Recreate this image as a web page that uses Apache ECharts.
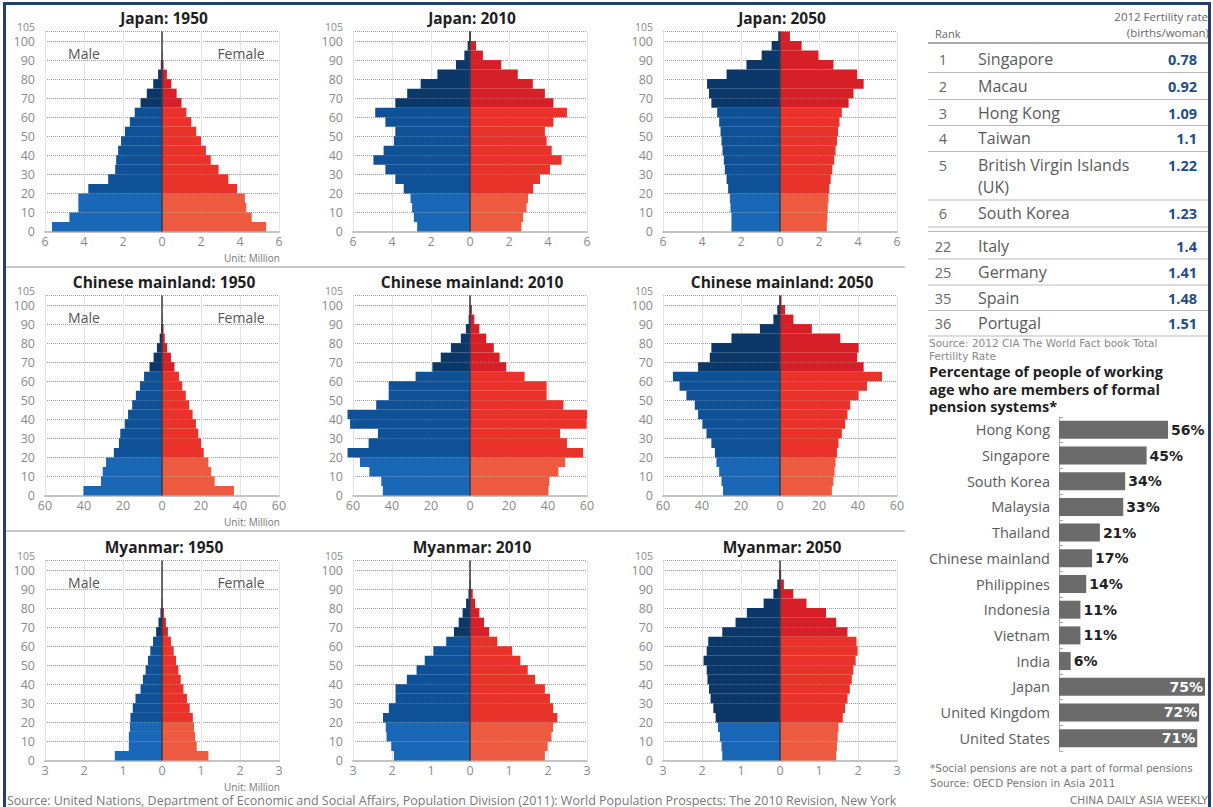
<!DOCTYPE html>
<html>
<head>
<meta charset="utf-8">
<script src="https://cdn.jsdelivr.net/npm/echarts@6/dist/echarts.min.js"></script>
<style>
html,body{margin:0;padding:0;background:#fff;}
#c{width:1213px;height:807px;}
</style>
</head>
<body>
<div id="c"></div>
<script>
// ---------------- DATA ----------------
const ageGroups = ['0-4','5-9','10-14','15-19','20-24','25-29','30-34','35-39','40-44','45-49','50-54','55-59','60-64','65-69','70-74','75-79','80-84','85-89','90-94','95-99','100+'];

const japan1950Male   = [5.64,4.75,4.29,4.29,3.78,2.76,2.4,2.35,2.25,2.1,1.9,1.65,1.4,1.1,0.78,0.45,0.2,0.06,0.01,0,0];
const japan1950Female = [5.34,4.6,4.32,4.25,3.85,3.4,2.9,2.5,2.25,2.0,1.75,1.5,1.25,1.0,0.75,0.48,0.25,0.08,0.02,0,0];
const japan2010Male   = [2.71,2.88,2.97,3.05,3.4,3.83,4.34,4.95,4.43,3.9,3.83,4.34,4.86,3.83,3.22,2.53,1.67,0.72,0.29,0.12,0.03];
const japan2010Female = [2.64,2.72,2.9,2.98,3.24,3.59,4.1,4.7,4.19,3.93,3.84,4.28,4.97,4.28,3.84,3.22,2.45,1.6,0.66,0.31,0.05];
const japan2050Male   = [2.49,2.49,2.54,2.57,2.66,2.74,2.83,2.88,2.95,3.0,3.05,3.12,3.22,3.52,3.64,3.74,2.74,1.72,0.94,0.43,0.09];
const japan2050Female = [2.4,2.43,2.45,2.49,2.53,2.6,2.68,2.78,2.85,2.92,2.98,3.05,3.17,3.52,3.77,4.29,3.95,2.74,1.97,1.11,0.51];

const china1950Male   = [40.3,31.3,30.4,28.7,24.7,22.1,21.4,19.1,17.4,15.3,13.4,11.3,9.2,6.4,4.3,2.6,1.2,0.5,0.1,0,0];
const china1950Female = [36.9,27,25.2,23.8,21.4,20,18.6,17.4,15.7,13.9,12.2,10.4,8.7,6.4,4.6,2.6,1.4,0.8,0.2,0,0];
const china2010Male   = [44.7,45.5,51.6,56.4,62.8,52,47.2,61.5,62.8,48.1,41.7,41.7,27.9,19.3,15,9.8,4.7,2.1,0.7,0.2,0];
const china2010Female = [40.2,40.7,45.3,48.8,58,49.7,46.2,59.8,60,47.9,39.3,39.3,28,18.6,15.2,12.2,8.3,4.8,2.2,1.0,0.2];
const china2050Male   = [29.2,30,31.2,32.6,33.4,35.2,37.7,39.8,42,43.7,48,51.5,54.9,42,36,35.2,24.9,10.3,3.4,1.4,0.3];
const china2050Female = [26.6,27.4,28,28.5,29.2,30,31.7,33.4,34.6,36,40.3,44.6,52.3,42.9,39.5,40.3,30.9,16.3,6.9,2.6,0.8];

const myanmar1950Male   = [1.21,0.85,0.85,0.82,0.81,0.75,0.68,0.55,0.49,0.42,0.36,0.3,0.23,0.15,0.09,0.04,0.01,0,0,0,0];
const myanmar1950Female = [1.19,0.89,0.85,0.82,0.79,0.71,0.64,0.55,0.48,0.42,0.36,0.3,0.23,0.15,0.1,0.05,0.01,0,0,0,0];
const myanmar2010Male   = [1.95,2.02,2.14,2.16,2.23,2.08,1.91,1.91,1.62,1.37,1.16,0.94,0.61,0.41,0.29,0.19,0.1,0.04,0.01,0,0];
const myanmar2010Female = [1.92,1.99,2.09,2.13,2.24,2.13,2.05,1.92,1.67,1.48,1.29,1.08,0.7,0.49,0.36,0.24,0.13,0.07,0.02,0,0];
const myanmar2050Male   = [1.48,1.5,1.54,1.59,1.65,1.71,1.78,1.82,1.86,1.88,1.96,1.88,1.84,1.48,1.14,0.85,0.42,0.17,0.07,0.02,0];
const myanmar2050Female = [1.44,1.46,1.48,1.5,1.61,1.67,1.73,1.79,1.84,1.88,1.94,1.99,1.96,1.73,1.44,1.18,0.68,0.34,0.1,0.03,0];

const pyramidTitles = ['Japan: 1950','Japan: 2010','Japan: 2050',
  'Chinese mainland: 1950','Chinese mainland: 2010','Chinese mainland: 2050',
  'Myanmar: 1950','Myanmar: 2010','Myanmar: 2050'];

// axis range (Million) and tick step for each country row
const japanAxisMax = 6,  japanAxisStep = 2;
const chinaAxisMax = 60, chinaAxisStep = 20;
const myanmarAxisMax = 3, myanmarAxisStep = 1;
const ageAxisMax = 105, ageAxisStep = 10;

const fertilityRanks = [1,2,3,4,5,6,22,25,35,36];
const fertilityCountries = ['Singapore','Macau','Hong Kong','Taiwan','British Virgin Islands\n(UK)','South Korea','Italy','Germany','Spain','Portugal'];
const fertilityRates = [0.78,0.92,1.09,1.1,1.22,1.23,1.4,1.41,1.48,1.51];

const pensionCountries = ['Hong Kong','Singapore','South Korea','Malaysia','Thailand','Chinese mainland','Philippines','Indonesia','Vietnam','India','Japan','United Kingdom','United States'];
const pensionShares = [56,45,34,33,21,17,14,11,11,6,75,72,71];

// ---------------- LAYOUT / STYLE ----------------
const FONT = '"Open Sans", "DejaVu Sans", sans-serif';
const WIDE = '"DejaVu Sans", "Open Sans", sans-serif';
const colLeft = [45, 353, 663];
const rowTop = [31.5, 295.5, 560.5];
const GW = 234, GH = 200;

const COL = {
  mYoung:'#1868b7', mMid:'#0e5196', mOld:'#0b3868',
  fYoung:'#ee5a3f', fMid:'#e8322a', fOld:'#d61f27'
};

const pyramids = [
  {m:japan1950Male, f:japan1950Female, max:japanAxisMax, step:japanAxisStep},
  {m:japan2010Male, f:japan2010Female, max:japanAxisMax, step:japanAxisStep},
  {m:japan2050Male, f:japan2050Female, max:japanAxisMax, step:japanAxisStep},
  {m:china1950Male, f:china1950Female, max:chinaAxisMax, step:chinaAxisStep},
  {m:china2010Male, f:china2010Female, max:chinaAxisMax, step:chinaAxisStep},
  {m:china2050Male, f:china2050Female, max:chinaAxisMax, step:chinaAxisStep},
  {m:myanmar1950Male, f:myanmar1950Female, max:myanmarAxisMax, step:myanmarAxisStep},
  {m:myanmar2010Male, f:myanmar2010Female, max:myanmarAxisMax, step:myanmarAxisStep},
  {m:myanmar2050Male, f:myanmar2050Female, max:myanmarAxisMax, step:myanmarAxisStep, darkAdultMale:true}
];

function txt(x, y, text, o) {
  o = o || {};
  return {
    type:'text', x:x, y:y, silent:true, z:10,
    style:{
      text:text, fill:o.color || '#555',
      font:(o.weight || 'normal') + ' ' + (o.size || 12) + 'px ' + (o.family || FONT),
      align:o.align || 'left', verticalAlign:'middle',
      textAlign:o.align || 'left', textVerticalAlign:'middle',
      lineHeight:o.lineHeight
    }
  };
}
function hline(x1, x2, y, color, w) {
  return {type:'line', silent:true, z:10, shape:{x1:x1, y1:y, x2:x2, y2:y}, style:{stroke:color, lineWidth:w || 1}};
}
function vline(x, y1, y2, color, w) {
  return {type:'line', silent:true, z:10, shape:{x1:x, y1:y1, x2:x, y2:y2}, style:{stroke:color, lineWidth:w || 1}};
}

const grids = [], xAxes = [], yAxes = [], series = [], graphics = [];

pyramids.forEach(function (p, i) {
  const row = Math.floor(i / 3), col = i % 3;
  const left = colLeft[col], top = rowTop[row];
  grids.push({left:left, top:top, width:GW, height:GH});
  xAxes.push({
    type:'value', gridIndex:i, min:-p.max, max:p.max, interval:p.step,
    axisLine:{show:true, onZero:false, lineStyle:{color:'#c4c4c4', width:2}},
    axisTick:{show:false},
    axisLabel:{formatter:function (v) { return Math.abs(v); }, color:'#8a8a8a', fontSize:12.5, fontFamily:FONT, margin:3,
      showMinLabel:true, showMaxLabel:true},
    splitLine:{show:true, lineStyle:{color:'#e3e3e3', width:1}}
  });
  const catIdx = yAxes.length;
  yAxes.push({type:'category', gridIndex:i, data:ageGroups, show:false, boundaryGap:true});
  // age axis: 0..100 labels every 10, grid lines incl. 105
  yAxes.push({
    type:'value', gridIndex:i, min:0, max:ageAxisMax, interval:ageAxisStep, position:'left',
    axisLine:{show:false}, axisTick:{show:false},
    axisLabel:{color:'#8a8a8a', fontSize:12.5, fontFamily:FONT, margin:10, showMinLabel:true, showMaxLabel:false},
    splitLine:{show:true, lineStyle:{color:'#9c9c9c', type:'dotted', width:1}}
  });
  // age axis top label (105), squeezed just above the 100 label
  yAxes.push({
    type:'value', gridIndex:i, min:0, max:ageAxisMax, interval:ageAxisMax, position:'left',
    axisLine:{show:false}, axisTick:{show:false},
    axisLabel:{color:'#8a8a8a', fontSize:10.5, fontFamily:FONT, margin:10, showMinLabel:false, showMaxLabel:true,
      verticalAlign:'bottom', lineHeight:10},
    splitLine:{show:false}
  });
  series.push({
    type:'bar', name:'Male', xAxisIndex:i, yAxisIndex:catIdx, silent:true, clip:false,
    data:p.m.map(function (v) { return -v; }),
    barCategoryGap:'0%', barGap:'-100%',
    itemStyle:{color:function (d) {
      if (d.dataIndex < 4) return COL.mYoung;
      if (d.dataIndex < 13) return p.darkAdultMale ? COL.mOld : COL.mMid;
      return COL.mOld;
    }}
  });
  series.push({
    type:'bar', name:'Female', xAxisIndex:i, yAxisIndex:catIdx, silent:true, clip:false,
    data:p.f.slice(),
    barCategoryGap:'0%', barGap:'-100%',
    itemStyle:{color:function (d) {
      if (d.dataIndex < 4) return COL.fYoung;
      if (d.dataIndex < 13) return COL.fMid;
      return COL.fOld;
    }},
    markLine:{
      silent:true, symbol:['none','none'], label:{show:false},
      lineStyle:{color:'#3b3b47', width:1.5, type:'solid'},
      data:[{xAxis:0}]
    }
  });
  graphics.push(txt(left + GW / 2 + 2, top - 13.5, pyramidTitles[i], {size:15.5, weight:'bold', color:'#1e1e1e', align:'center'}));
  if (col === 0) {
    graphics.push(txt(84, top + 21.5, 'Male', {size:14, color:'#555', align:'center'}));
    graphics.push(txt(241, top + 21.5, 'Female', {size:14, color:'#555', align:'center'}));
    graphics.push(txt(left + GW + 1, top + GH + 26, 'Unit: Million', {size:10, color:'#777', align:'right'}));
  }
});

// row separators
graphics.push(hline(5, 905, 267, '#c8c8c8', 2));
graphics.push(hline(5, 905, 531, '#c8c8c8', 2));

// bottom source
graphics.push(txt(7, 800, 'Source: United Nations, Department of Economic and Social Affairs, Population Division (2011): World Population Prospects: The 2010 Revision, New York', {size:12.5, color:'#777'}));

// ---------- Fertility table ----------
graphics.push(txt(935, 33, 'Rank', {size:11, color:'#666'}));
graphics.push(txt(1208, 16, '2012 Fertility rate', {size:11.5, color:'#666', align:'right'}));
graphics.push(txt(1209, 32, '(births/woman)', {size:11.5, color:'#666', align:'right'}));
graphics.push(hline(928, 1209, 43, '#555', 1));
const tableRowY = [59, 86, 113, 138, 165, 213, 246, 272, 298, 323];
fertilityRanks.forEach(function (r, k) {
  const y = tableRowY[k];
  const name = fertilityCountries[k];
  const multi = name.indexOf('\n') >= 0;
  graphics.push(txt(943, y, String(r), {size:14.5, color:'#666', align:'center'}));
  graphics.push(txt(978, multi ? y + 11 : y, name, {size:16, color:'#5a5a5a', lineHeight:22}));
  graphics.push(txt(1197, y, String(fertilityRates[k]), {size:14.5, weight:'bold', color:'#1d4e89', align:'right'}));
});
[72.5, 99.5, 125.5, 151.5, 200, 227, 231.5, 259, 285, 310.5, 336].forEach(function (y) {
  graphics.push(hline(928, 1209, y, '#b9b9b9', 1));
});
graphics.push(txt(929, 343, 'Source: 2012 CIA The World Fact book Total', {size:10.5, color:'#888', family:WIDE}));
graphics.push(txt(929, 355.5, 'Fertility Rate', {size:10.5, color:'#888', family:WIDE}));

// bar chart title
graphics.push(txt(929, 371.5, 'Percentage of people of working', {size:14.5, weight:'bold', color:'#1e1e1e'}));
graphics.push(txt(929, 389, 'age who are members of formal', {size:14.5, weight:'bold', color:'#1e1e1e'}));
graphics.push(txt(929, 406.5, 'pension systems*', {size:14.5, weight:'bold', color:'#1e1e1e'}));

graphics.push(txt(930, 768, '*Social pensions are not a part of formal pensions', {size:10.5, color:'#777', family:WIDE}));
graphics.push(txt(930, 783, 'Source: OECD Pension in Asia 2011', {size:10.5, color:'#777', family:WIDE}));
graphics.push(txt(1208, 800, 'CHINA DAILY ASIA WEEKLY', {size:10.5, color:'#777', align:'right', family:WIDE}));

// frame
graphics.push(hline(3, 1211, 3.5, '#223f6e', 3));
graphics.push(vline(4.5, 2, 807, '#223f6e', 3));
graphics.push(vline(1209.5, 2, 807, '#223f6e', 3));

// ---------- Pension bar chart ----------
const bg = grids.length;
grids.push({left:1059, top:417, width:146, height:334});
xAxes.push({type:'value', gridIndex:bg, min:0, max:75, show:false});
yAxes.push({
  type:'category', gridIndex:bg, data:pensionCountries, inverse:true,
  axisLine:{show:true, lineStyle:{color:'#aaaaaa', width:1}},
  axisTick:{show:true, inside:true, length:4, lineStyle:{color:'#aaaaaa'}},
  axisLabel:{color:'#5a5a5a', fontSize:14.5, fontFamily:FONT, margin:9},
  splitLine:{show:false}
});
series.push({
  type:'bar', xAxisIndex:bg, yAxisIndex:yAxes.length - 1, silent:true, barWidth:18,
  itemStyle:{color:'#6b6b6b'},
  data:pensionShares.map(function (v) {
    const inside = v > 60;
    return {
      value:v,
      label:{
        show:true, position:inside ? 'insideRight' : 'right', distance:inside ? 2 : 3,
        color:inside ? '#ffffff' : '#222222', fontWeight:'bold', fontSize:14, fontFamily:WIDE,
        formatter:'{c}%'
      }
    };
  })
});

const chart = echarts.init(document.getElementById('c'), null, {renderer:'svg', width:1213, height:807});
chart.setOption({
  animation:false,
  backgroundColor:'#ffffff',
  textStyle:{fontFamily:FONT},
  grid:grids,
  xAxis:xAxes,
  yAxis:yAxes,
  series:series,
  graphic:{elements:graphics}
});
</script>
</body>
</html>
